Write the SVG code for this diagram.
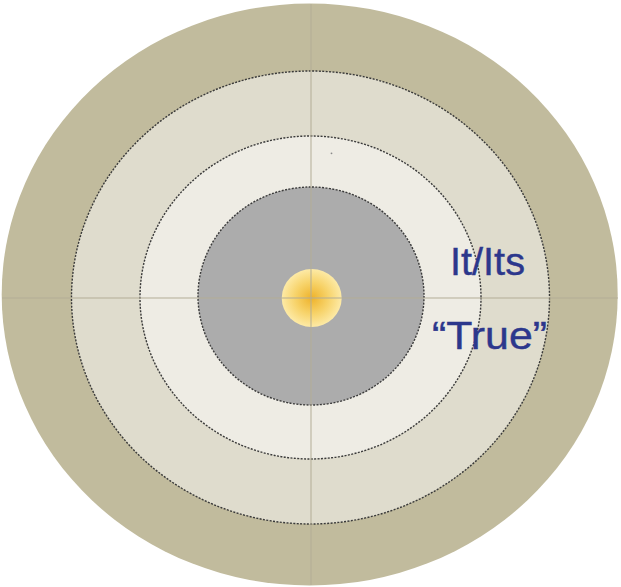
<svg xmlns="http://www.w3.org/2000/svg" width="621" height="587" viewBox="0 0 621 587">
  <style>
    .ring { stroke: #3a3a3a; stroke-width: 1.4; stroke-dasharray: 2 1.4; }
    .axis { stroke: #b3ad96; stroke-width: 1; fill: none; }
    .label { font-family: "Liberation Sans", Arial, sans-serif; font-size: 39px; fill: #2c378c; stroke: #2c378c; stroke-width: 0.4; }
  </style>
  <defs>
    <radialGradient id="sunGrad" cx="0.5" cy="0.5" r="0.5">
      <stop offset="0" stop-color="#eeb22a"/>
      <stop offset="0.55" stop-color="#f7d36a"/>
      <stop offset="1" stop-color="#fdeaa6"/>
    </radialGradient>
  </defs>
  <rect width="621" height="587" fill="#ffffff"/>
  <g id="outer">
    <ellipse cx="309.7" cy="294.5" rx="308" ry="291" fill="#c1bb9d"/>
  </g>
  <g id="ring2">
    <ellipse class="ring" cx="310.5" cy="297.5" rx="239" ry="226.5" fill="#dfdccd"/>
  </g>
  <g id="ring3">
    <ellipse class="ring" cx="310.5" cy="297.5" rx="170.5" ry="161.5" fill="#eeece4"/>
  </g>
  <g id="core">
    <ellipse class="ring" cx="311" cy="296" rx="113" ry="109" fill="#acacac"/>
  </g>
  <g id="sun">
    <ellipse cx="311.7" cy="298" rx="30" ry="29" fill="url(#sunGrad)"/>
  </g>
  <g id="connectors">
    <line class="axis" x1="311" y1="4" x2="311" y2="585"/>
    <line class="axis" x1="2" y1="298" x2="618" y2="298"/>
  </g>
  <circle cx="331.5" cy="153.3" r="0.9" fill="#8a8a8a"/>
  <g id="labels">
    <text class="label" x="450" y="275" textLength="75" lengthAdjust="spacingAndGlyphs">It/Its</text>
    <text class="label" x="432" y="349" textLength="115" lengthAdjust="spacingAndGlyphs">“True”</text>
  </g>
</svg>
